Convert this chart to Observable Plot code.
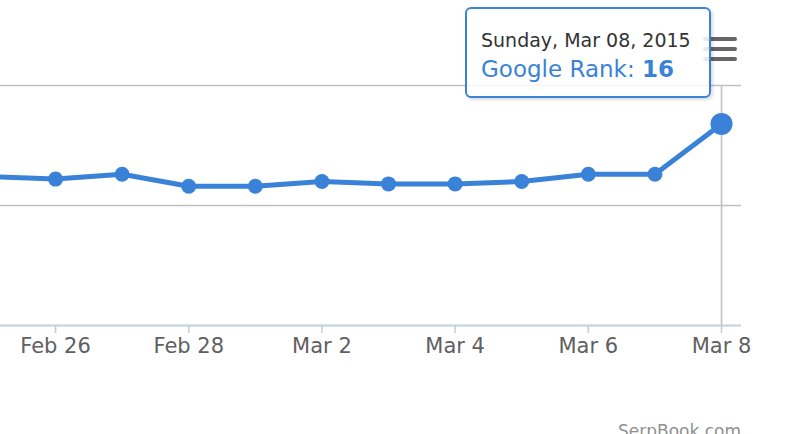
<!DOCTYPE html>
<html>
<head>
<meta charset="utf-8">
<script src="https://cdn.jsdelivr.net/npm/d3@7"></script>
<script src="https://cdn.jsdelivr.net/npm/@observablehq/plot@0.6"></script>
<style>
  html, body { margin: 0; padding: 0; background: #fff; }
  #wrap { position: relative; width: 800px; height: 434px; overflow: hidden; }
  #menu { position: absolute; left: 703px; top: 37px; width: 34px; }
  #menu div { height: 4px; border-radius: 2px; background: #666; margin-bottom: 6px; }
  #tip { position: absolute; left: 465px; top: 7px; width: 242px; height: 87px;
         border: 2px solid #3a82d8; border-radius: 6px; background: rgba(255,255,255,0.86);
         box-shadow: 2px 2px 3px rgba(0,0,0,0.14); font-family: "DejaVu Sans", sans-serif; }
  #tip .d { position: absolute; left: 14px; top: 20px; font-size: 19px; line-height: 22px; color: #333; white-space: nowrap; }
  #tip .v { position: absolute; left: 14px; top: 47px; font-size: 23px; line-height: 26px; color: #3a82d8; white-space: nowrap; }
  #credit { position: absolute; left: 618px; top: 421px; font-family: "DejaVu Sans", sans-serif; font-size: 17px; color: #909090; white-space: nowrap; }
</style>
</head>
<body>
<div id="wrap">
  <div id="chart"></div>
  <div id="menu"><div></div><div></div><div></div></div>
  <div id="tip"><span class="d"></span><span class="v"></span></div>
  <div id="credit">SerpBook.com</div>
</div>
<script>
const dates = ["2015-02-25","2015-02-26","2015-02-27","2015-02-28","2015-03-01","2015-03-02","2015-03-03","2015-03-04","2015-03-05","2015-03-06","2015-03-07","2015-03-08"];
const ranks = [38, 39, 37, 42, 42, 40, 41, 41, 40, 37, 37, 16];
const tickDates = ["2015-02-26","2015-02-28","2015-03-02","2015-03-04","2015-03-06","2015-03-08"];
const gridValues = [0, 50];
const seriesName = "Google Rank";

const data = dates.map((d, i) => ({date: new Date(d + "T00:00:00Z"), rank: ranks[i]}));
const last = data[data.length - 1];
const ticks = tickDates.map(d => new Date(d + "T00:00:00Z"));
const blue = "#3a82d8";

const chart = Plot.plot({
  width: 800,
  height: 434,
  marginLeft: 0,
  marginRight: 59,
  marginTop: 85,
  marginBottom: 109,
  style: {fontFamily: "DejaVu Sans, sans-serif", fontSize: "21px", color: "#606060", background: "white"},
  x: {
    type: "utc",
    domain: [new Date("2015-02-25T04:10:00Z"), new Date("2015-03-08T07:12:00Z")],
    label: null
  },
  y: {type: "linear", domain: [0, 100], reverse: true, axis: null},
  marks: [
    Plot.ruleY(gridValues, {stroke: "#c0c0c0", strokeWidth: 1.6}),
    Plot.ruleX([last.date], {y1: 0, y2: 100, stroke: "#c0c0c0", strokeWidth: 1.6}),
    Plot.ruleY([100], {stroke: "#c0d0e0", strokeWidth: 1.8}),
    Plot.axisX({ticks, tickFormat: d3.utcFormat("%b %-d"), tickSize: 8, tickPadding: 5, stroke: "#c0d0e0", strokeWidth: 1.6, strokeOpacity: 1, fill: "#606060", fontSize: 21, label: null}),
    Plot.line(data, {x: "date", y: "rank", stroke: blue, strokeWidth: 5, clip: true}),
    Plot.dot(data.slice(0, -1), {x: "date", y: "rank", r: 7.5, fill: blue, clip: true}),
    Plot.dot([last], {x: "date", y: "rank", r: 11, fill: blue, clip: true})
  ]
});
document.getElementById("chart").appendChild(chart);

document.querySelector("#tip .d").textContent = d3.utcFormat("%A, %b %d, %Y")(last.date);
const v = document.querySelector("#tip .v");
v.textContent = seriesName + ": ";
const b = document.createElement("b");
b.textContent = String(last.rank);
v.appendChild(b);
</script>
</body>
</html>
